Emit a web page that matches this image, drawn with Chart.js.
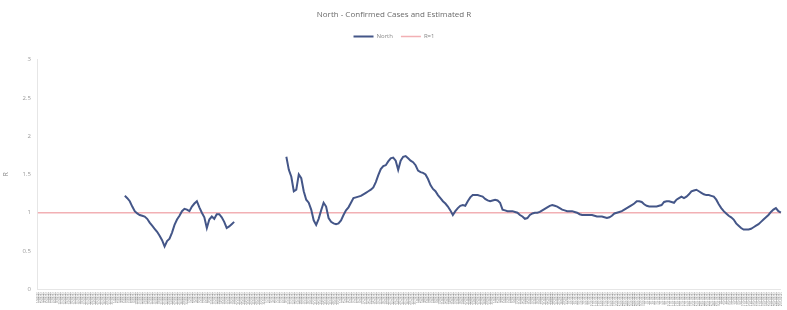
<!DOCTYPE html>
<html>
<head>
<meta charset="utf-8">
<script src="https://cdn.jsdelivr.net/npm/chart.js@4"></script>
<style>
html,body{margin:0;padding:0;background:#fff;}
#c{display:block;}
</style>
</head>
<body>
<canvas id="c" width="787" height="310"></canvas>
<script>
// ---- Data ----
const startDate = "2020-03-01";
const dayCount = 300;
const seriesName = "North";
const refName = "R=1";
const yTicks = [0, 0.5, 1, 1.5, 2, 2.5, 3];

// index 35..79
const northPart1 = [1.22,1.19,1.15,1.08,1.02,0.99,0.97,0.96,0.95,0.92,0.87,0.83,0.79,0.75,0.70,0.64,0.56,0.63,0.66,0.74,
0.84,0.91,0.96,1.02,1.05,1.04,1.02,1.08,1.12,1.15,1.07,1.00,0.94,0.80,0.91,0.95,0.92,0.98,0.98,0.94,0.88,0.80,0.82,0.85,0.88];
// index 100..299
const northPart2 = [1.73,1.56,1.47,1.28,1.30,1.50,1.45,1.28,1.17,1.13,1.04,0.90,0.84,0.92,1.03,1.13,1.08,0.93,0.88,0.86,
0.85,0.86,0.90,0.97,1.03,1.07,1.13,1.19,1.20,1.21,1.22,1.24,1.26,1.28,1.30,1.33,1.40,1.49,1.57,1.61,
1.62,1.67,1.71,1.72,1.68,1.56,1.68,1.73,1.74,1.71,1.68,1.66,1.62,1.55,1.53,1.52,1.50,1.44,1.36,1.31,
1.28,1.23,1.19,1.15,1.12,1.08,1.03,0.97,1.02,1.06,1.09,1.10,1.09,1.15,1.20,1.23,1.23,1.23,1.22,1.21,
1.18,1.16,1.15,1.16,1.17,1.16,1.13,1.04,1.03,1.02,1.02,1.02,1.01,1.00,0.97,0.95,0.92,0.93,0.97,0.99,
1.00,1.00,1.01,1.03,1.05,1.07,1.09,1.10,1.09,1.08,1.06,1.04,1.03,1.02,1.02,1.02,1.01,1.00,0.98,0.97,
0.97,0.97,0.97,0.97,0.96,0.95,0.95,0.95,0.94,0.93,0.94,0.96,0.99,1.00,1.01,1.02,1.04,1.06,1.08,1.10,
1.12,1.15,1.15,1.14,1.11,1.09,1.08,1.08,1.08,1.08,1.09,1.10,1.14,1.15,1.15,1.14,1.13,1.17,1.19,1.21,
1.19,1.21,1.24,1.28,1.29,1.30,1.28,1.26,1.24,1.23,1.23,1.22,1.21,1.17,1.11,1.06,1.02,0.99,0.96,0.94,
0.91,0.86,0.83,0.80,0.78,0.78,0.78,0.79,0.81,0.83,0.85,0.88,0.91,0.94,0.97,1.01,1.04,1.06,1.02,1.00];
const part1Start = 35;
const part2Start = 100;
const refValue = 1;

// ---- Build ----
const labels = [];
{
  const d0 = new Date(startDate + "T00:00:00Z");
  for (let i = 0; i < dayCount; i++) {
    const d = new Date(d0.getTime() + i * 86400000);
    labels.push(d.getUTCDate() + "/" + (d.getUTCMonth() + 1) + "/" + d.getUTCFullYear());
  }
}
const north = new Array(dayCount).fill(null);
northPart1.forEach((v, k) => north[part1Start + k] = v);
northPart2.forEach((v, k) => north[part2Start + k] = v);
const ref = new Array(dayCount).fill(refValue);

const legendSpacer = {
  id: 'legendSpacer',
  beforeInit(chart) {
    const lg = chart.legend;
    if (!lg) return;
    const origFit = lg.fit;
    lg.fit = function () { origFit.call(this); this.height += 10; };
  }
};

new Chart(document.getElementById('c'), {
  type: 'line',
  data: {
    labels: labels,
    datasets: [
      { label: seriesName, data: north, borderColor: 'rgb(68,86,136)', backgroundColor: 'rgb(68,86,136)',
        borderWidth: 2, pointRadius: 0, tension: 0, spanGaps: false },
      { label: refName, data: ref, borderColor: 'rgb(242,176,180)', backgroundColor: 'rgb(242,176,180)',
        borderWidth: 1.5, pointRadius: 0, tension: 0 }
    ]
  },
  plugins: [legendSpacer],
  options: {
    responsive: false,
    animation: false,
    devicePixelRatio: 1,
    layout: { padding: { left: 2, right: 1, top: 6, bottom: 1 } },
    plugins: {
      title: { display: true, text: 'North - Confirmed Cases and Estimated R', color: '#6a6a6a',
        font: { family: 'Open Sans', size: 8, weight: 'normal' }, padding: { top: 4, bottom: 6 } },
      legend: { display: true, labels: { usePointStyle: true, pointStyle: 'line', pointStyleWidth: 20, boxHeight: 6,
        color: '#888', font: { family: 'Open Sans', size: 6 }, padding: 8 } },
      tooltip: { enabled: false }
    },
    scales: {
      x: {
        grid: { display: false, drawTicks: false },
        border: { display: true, color: '#e6e6e6' },
        ticks: { autoSkip: false, maxRotation: 90, minRotation: 90, color: '#808080',
          font: { family: 'Open Sans', size: 2.6 }, padding: 3 }
      },
      y: {
        min: 0, max: 3,
        afterBuildTicks: (axis) => { axis.ticks = yTicks.map(v => ({ value: v })); },
        grid: { display: false, drawTicks: false },
        border: { display: true, color: '#e6e6e6' },
        ticks: { color: '#999', font: { family: 'Open Sans', size: 6 }, padding: 7,
          callback: (v) => String(v) },
        title: { display: true, text: 'R', color: '#888', font: { family: 'Open Sans', size: 7 }, padding: { top: 0, bottom: 5 } }
      }
    }
  }
});
</script>
</body>
</html>
